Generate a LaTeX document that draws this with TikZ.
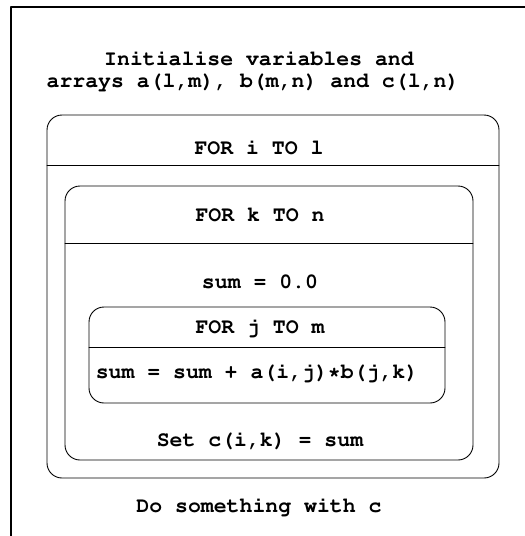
\documentclass[tikz,border=0pt]{standalone}
\usepackage[T1]{fontenc}
\usepackage{tikz}
\tikzset{>=latex}
\newcommand{\courierbold}{\fontencoding{T1}\fontfamily{pcr}\fontseries{b}\selectfont}
\tikzset{
	code/.style={font=\courierbold\fontsize{21.5}{26}\selectfont,inner sep=0pt,anchor=base},
	loopbox/.style={rounded corners=15pt,line width=0.9pt}
}

\begin{document}
\begin{tikzpicture}[line cap=round,line join=round,x=1pt,y=-1pt]
		\clip (0,0) rectangle (525,536);
		\draw[line width=1.2pt] (11,7) rectangle (545,560);
		% loop boxes, outermost first
		\draw[loopbox] (47,115) rectangle (499,478);
		\draw[line width=0.9pt] (47,165) -- (499,165);
		\draw[loopbox] (65,186) rectangle (473,460);
		\draw[line width=0.9pt] (65,243) -- (473,243);
		\draw[loopbox] (89,307) rectangle (445,403);
		\draw[line width=0.9pt] (89,347) -- (445,347);
		% statements
		\node[code] (init1) at (259,65) {Initialise variables and};
		\node[code] (init2) at (253,87) {arrays a(l,m), b(m,n) and c(l,n)};
		\node[code] (fori) at (259,154) {FOR i TO l};
		\node[code] (fork) at (260,221) {FOR k TO n};
		\node[code] (zero) at (260,288) {sum = 0.0};
		\node[code] (forj) at (260,333) {FOR j TO m};
		\node[code] (acc) at (257,378) {sum = sum + a(i,j)*b(j,k)};
		\node[code] (setc) at (260,446) {Set c(i,k) = sum};
		\node[code] (done) at (259,512) {Do something with c};
		
		\end{tikzpicture}
\end{document}
